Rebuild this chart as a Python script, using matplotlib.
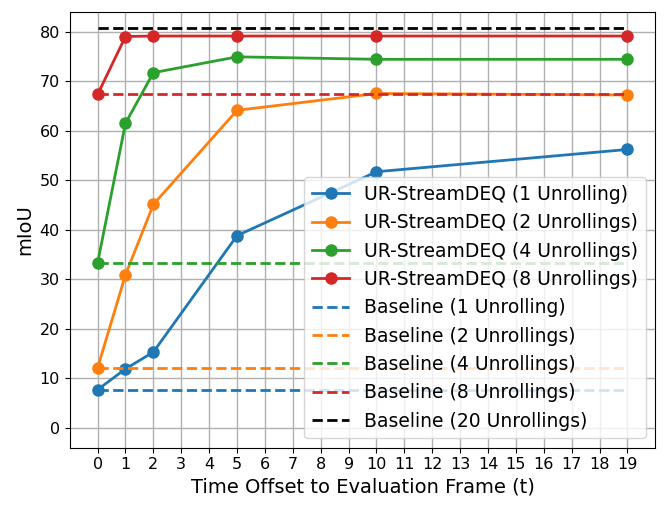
import numpy as np
import matplotlib
matplotlib.use("Agg")
import matplotlib.pyplot as plt

# time offsets where the models were evaluated
t = [0, 1, 2, 5, 10, 19]

# mIoU per number of unrollings
ur_1 = [7.7, 11.9, 15.3, 38.8, 51.7, 56.2]
ur_2 = [12.1, 30.9, 45.1, 64.1, 67.5, 67.2]
ur_4 = [33.3, 61.5, 71.7, 74.9, 74.4, 74.4]
ur_8 = [67.3, 79.0, 79.1, 79.1, 79.1, 79.1]

baselines = [7.7, 12.1, 33.3, 67.3, 80.7]
baseline_names = ["1 Unrolling", "2 Unrollings", "4 Unrollings",
                  "8 Unrollings", "20 Unrollings"]
baseline_colors = ["tab:blue", "tab:orange", "tab:green", "tab:red", "black"]

fig = plt.figure(figsize=(6.64, 5.11), dpi=100)
ax = fig.add_axes([0.105, 0.124, 0.882, 0.853])

ax.plot(t, ur_1, "o-", color="tab:blue", lw=2, ms=8, label="UR-StreamDEQ (1 Unrolling)")
ax.plot(t, ur_2, "o-", color="tab:orange", lw=2, ms=8, label="UR-StreamDEQ (2 Unrollings)")
ax.plot(t, ur_4, "o-", color="tab:green", lw=2, ms=8, label="UR-StreamDEQ (4 Unrollings)")
ax.plot(t, ur_8, "o-", color="tab:red", lw=2, ms=8, label="UR-StreamDEQ (8 Unrollings)")

for val, name, c in zip(baselines, baseline_names, baseline_colors):
    ax.plot([0, 19], [val, val], "--", color=c, lw=2, label=f"Baseline ({name})")

ax.set_xticks(range(20))
ax.set_xlim(-1, 20)
ax.set_ylim(-4, 84)
ax.set_yticks(range(0, 81, 10))
ax.tick_params(labelsize=11.5)
ax.grid(True, color="#b0b0b0", lw=1)
ax.set_xlabel("Time Offset to Evaluation Frame (t)", fontsize=14)
ax.set_ylabel("mIoU", fontsize=14)
ax.legend(loc="lower right", fontsize=13.5)

fig.savefig("out.png", dpi=100)
